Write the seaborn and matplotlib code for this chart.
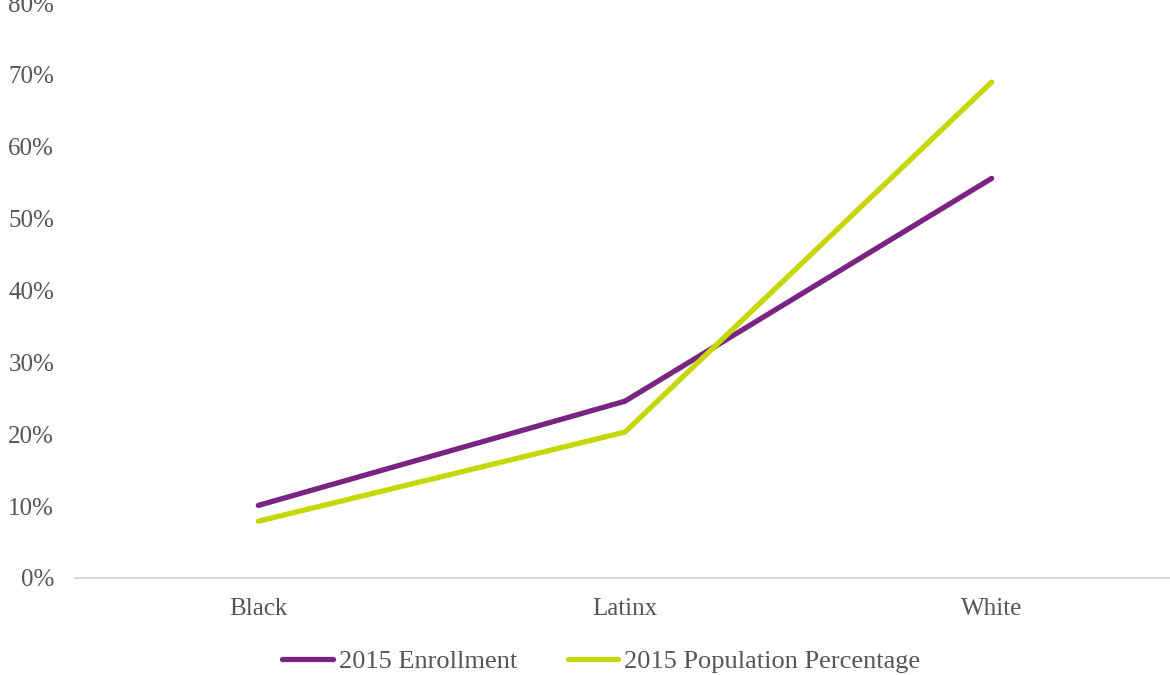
import pandas as pd
import seaborn as sns
import matplotlib.pyplot as plt
from matplotlib.ticker import PercentFormatter

groups = ['Black', 'Latinx', 'White']
enrollment = [10.1, 24.6, 55.6]
population = [7.9, 20.3, 69.0]
series_names = ['2015 Enrollment', '2015 Population Percentage']
series_colors = ['#7A2382', '#C5D600']


def build_frame():
    rows = []
    for name, values in zip(series_names, [enrollment, population]):
        for g, v in zip(groups, values):
            rows.append({'group': g, 'value': v, 'series': name})
    return pd.DataFrame(rows)


def main():
    sns.set_theme(style='white')
    plt.rcParams['font.family'] = ['Liberation Serif', 'DejaVu Serif']
    text_color = '#555555'

    df = build_frame()
    fig = plt.figure(figsize=(11.7, 6.75), dpi=100)
    ax = fig.add_axes([75 / 1170, 97 / 675, 1100 / 1170, 575 / 675])

    sns.lineplot(data=df, x='group', y='value', hue='series',
                 palette=dict(zip(series_names, series_colors)),
                 linewidth=3.8, sort=False, ax=ax, legend=False)
    for line in ax.lines:
        line.set_solid_capstyle('round')

    ax.set_xlim(-0.5, 2.5)
    ax.set_ylim(0, 80)
    ax.set_yticks(range(0, 81, 10))
    ax.yaxis.set_major_formatter(PercentFormatter(decimals=0))
    ax.set_xlabel('')
    ax.set_ylabel('')
    ax.tick_params(axis='both', length=0, labelsize=18, colors=text_color)
    ax.tick_params(axis='y', pad=15)
    ax.tick_params(axis='x', pad=14.5)
    for side in ['top', 'right', 'left']:
        ax.spines[side].set_visible(False)
    ax.spines['bottom'].set_color('#D9D9D9')
    ax.spines['bottom'].set_linewidth(1.5)

    handles = [plt.Line2D([], [], color=c, linewidth=3.8, solid_capstyle='round')
               for c in series_colors]
    fig.legend(handles, series_names, loc='center', bbox_to_anchor=(0.514, 0.02),
               ncol=2, frameon=False, fontsize=19, labelcolor=text_color,
               handlelength=1.9, handletextpad=0.25, columnspacing=1.9)

    fig.savefig('out.png', dpi=100)


if __name__ == '__main__':
    main()
